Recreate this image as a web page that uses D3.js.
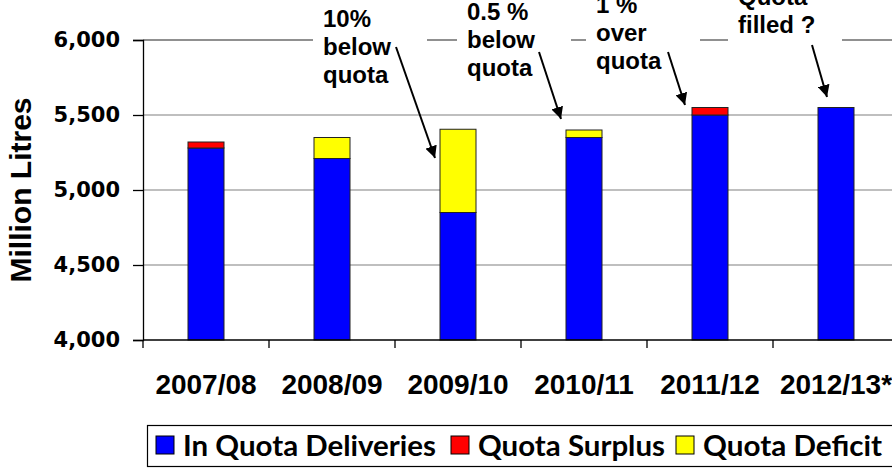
<!DOCTYPE html>
<html>
<head>
<meta charset="utf-8">
<script src="https://cdn.jsdelivr.net/npm/d3@7"></script>
<style>
  body { margin: 0; background: #fff; }
  svg { display: block; }
</style>
</head>
<body>
<div id="chart"></div>
<script>
// chart data
const SEASONS = ["2007/08", "2008/09", "2009/10", "2010/11", "2011/12", "2012/13*"];
const IN_QUOTA = [5280, 5210, 4850, 5350, 5500, 5550];
const SURPLUS = [40, 0, 0, 0, 50, 0];
const DEFICIT = [0, 140, 555, 50, 0, 0];
const Y_TICKS = [4000, 4500, 5000, 5500, 6000];
const SERIES = ["In Quota Deliveries", "Quota Surplus", "Quota Deficit"];
const NOTES = [
    ["10%", "below", "quota"],
    ["0.5 %", "below", "quota"],
    ["1 %", "over", "quota"],
    ["Quota", "filled ?"]
];

const FRAME_WIDTH = 892;
const FRAME_HEIGHT = 468;
const MARGINS = { left: 143, top: 40 };
const VIS_WIDTH = 756;
const VIS_HEIGHT = 300;
const COLORS = ["#0000ff", "#ff0000", "#ffff00"];
const ARIAL = "'Liberation Sans', Arial, sans-serif";

const FRAME = d3.select("#chart")
    .append("svg")
    .attr("width", FRAME_WIDTH)
    .attr("height", FRAME_HEIGHT);

const X_SCALE = d3.scaleBand()
    .domain(SEASONS)
    .range([MARGINS.left, MARGINS.left + VIS_WIDTH]);

const Y_SCALE = d3.scaleLinear()
    .domain([4000, 6000])
    .range([MARGINS.top + VIS_HEIGHT, MARGINS.top]);

// gridlines
FRAME.append("g")
    .selectAll("line")
    .data(Y_TICKS.slice(1))
    .enter()
    .append("line")
    .attr("x1", MARGINS.left)
    .attr("x2", FRAME_WIDTH)
    .attr("y1", (d) => Y_SCALE(d))
    .attr("y2", (d) => Y_SCALE(d))
    .attr("stroke", (d) => d === 6000 ? "#222" : "#808080")
    .attr("stroke-width", 1.2);

// stacked bars
const stackData = SEASONS.map((s, i) => ({
    season: s, inq: IN_QUOTA[i], sur: SURPLUS[i], def: DEFICIT[i]
}));
const stacked = d3.stack().keys(["inq", "sur", "def"])(stackData);
const BAR_W = 36;

FRAME.append("g")
    .selectAll("g")
    .data(stacked)
    .enter()
    .append("g")
    .attr("fill", (d, i) => COLORS[i])
    .selectAll("rect")
    .data((d) => d.filter((p) => p[1] > p[0]))
    .enter()
    .append("rect")
    .attr("x", (d) => X_SCALE(d.data.season) + X_SCALE.bandwidth() / 2 - BAR_W / 2)
    .attr("y", (d) => Y_SCALE(d[1]))
    .attr("width", BAR_W)
    .attr("height", (d) => Y_SCALE(Math.max(d[0], 4000)) - Y_SCALE(d[1]))
    .attr("stroke", "#222")
    .attr("stroke-width", 1);

// y axis
const yAxis = FRAME.append("g")
    .attr("transform", "translate(" + MARGINS.left + ",0)")
    .call(d3.axisLeft(Y_SCALE).tickValues(Y_TICKS).tickSize(10).tickPadding(13)
        .tickFormat(d3.format(",")));
yAxis.select(".domain").attr("stroke", "#000").attr("stroke-width", 1.3);
yAxis.selectAll(".tick line").attr("stroke", "#000").attr("stroke-width", 1.3);
yAxis.selectAll("text")
    .attr("font-family", "'DejaVu Sans', Verdana, sans-serif")
    .attr("font-weight", "bold")
    .attr("font-size", "21px")
    .attr("fill", "#000");

// x axis: boundary ticks plus centred labels
const xAxis = FRAME.append("g")
    .attr("transform", "translate(0," + (MARGINS.top + VIS_HEIGHT) + ")")
    .call(d3.axisBottom(X_SCALE).tickSize(0).tickPadding(34));
xAxis.select(".domain").attr("d", "M" + MARGINS.left + ",0H" + FRAME_WIDTH)
    .attr("stroke", "#000").attr("stroke-width", 1.3);
xAxis.selectAll("text")
    .attr("font-family", ARIAL)
    .attr("font-weight", "bold")
    .attr("font-size", "28px")
    .attr("fill", "#000");
xAxis.selectAll(".bound")
    .data(SEASONS)
    .enter()
    .append("line")
    .attr("class", "bound")
    .attr("x1", (d) => X_SCALE(d))
    .attr("x2", (d) => X_SCALE(d))
    .attr("y1", 0)
    .attr("y2", 8)
    .attr("stroke", "#000")
    .attr("stroke-width", 1.3);

// y title
FRAME.append("text")
    .attr("transform", "translate(31,190) rotate(-90)")
    .attr("text-anchor", "middle")
    .attr("font-family", ARIAL)
    .attr("font-weight", "bold")
    .attr("font-size", "30px")
    .text("Million Litres");

// annotations
const NOTE_POS = [
    { x: 323, y: 27, from: [396, 47], to: [435, 158] },
    { x: 467, y: 20, from: [539, 52], to: [561, 119] },
    { x: 596, y: 13, from: [668, 52], to: [685, 105] },
    { x: 738, y: 5, from: [812, 45], to: [827, 97] }
];

FRAME.append("defs").append("marker")
    .attr("id", "head")
    .attr("viewBox", "0 0 12 12")
    .attr("refX", 12)
    .attr("refY", 6)
    .attr("markerWidth", 12)
    .attr("markerHeight", 12)
    .attr("markerUnits", "userSpaceOnUse")
    .attr("orient", "auto")
    .append("path")
    .attr("d", "M0,0L12,6L0,12Z")
    .attr("fill", "#000");

NOTES.forEach((lines, i) => {
    const p = NOTE_POS[i];
    FRAME.append("rect")
        .attr("x", p.x - 10)
        .attr("y", 0)
        .attr("width", 114)
        .attr("height", 95)
        .attr("fill", "#fff");
    const t = FRAME.append("text")
        .attr("font-family", ARIAL)
        .attr("font-weight", "bold")
        .attr("font-size", "24px")
        .attr("fill", "#000");
    lines.forEach((l, j) => {
        t.append("tspan").attr("x", p.x).attr("y", p.y + j * 28).text(l);
    });
    FRAME.append("line")
        .attr("x1", p.from[0]).attr("y1", p.from[1])
        .attr("x2", p.to[0]).attr("y2", p.to[1])
        .attr("stroke", "#000")
        .attr("stroke-width", 2)
        .attr("marker-end", "url(#head)");
});

// legend
const legend = FRAME.append("g");
legend.append("rect")
    .attr("x", 147.5)
    .attr("y", 425.5)
    .attr("width", 760)
    .attr("height", 41)
    .attr("fill", "#fff")
    .attr("stroke", "#000")
    .attr("stroke-width", 1.2);

const LEG_X = [156, 451, 676];
const LEG_W = [253, 187, 179];
SERIES.forEach((s, i) => {
    legend.append("rect")
        .attr("x", LEG_X[i])
        .attr("y", 436)
        .attr("width", 18)
        .attr("height", 18)
        .attr("fill", COLORS[i])
        .attr("stroke", "#000")
        .attr("stroke-width", 1);
    legend.append("text")
        .attr("x", LEG_X[i] + 27)
        .attr("y", 456)
        .attr("font-family", "Lato, 'Open Sans', sans-serif")
        .attr("font-weight", "bold")
        .attr("font-size", "29px")
        .attr("textLength", LEG_W[i])
        .attr("lengthAdjust", "spacingAndGlyphs")
        .attr("fill", "#000")
        .text(s);
});
</script>
</body>
</html>
